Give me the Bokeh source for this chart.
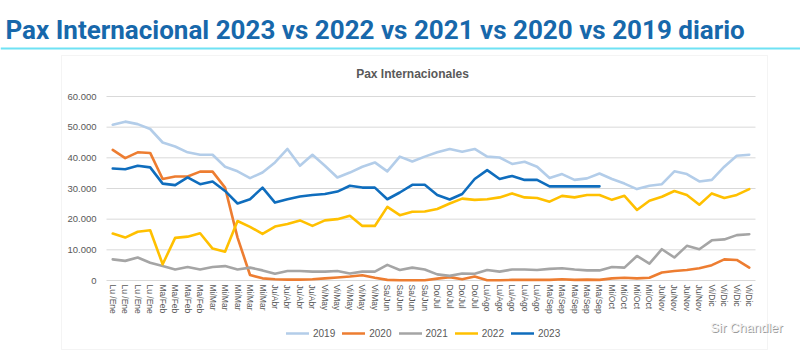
from bokeh.plotting import figure
from bokeh.models import Range1d, FixedTicker, Label, BoxAnnotation, Legend, LegendItem
from bokeh.embed import file_html
from bokeh.resources import INLINE

# ---------------- data ----------------
week_labels = [
    "Lu /Ene", "Lu /Ene", "Lu /Ene", "Lu /Ene",
    "Ma/Feb", "Ma/Feb", "Ma/Feb", "Ma/Feb",
    "Mi/Mar", "Mi/Mar", "Mi/Mar", "Mi/Mar", "Mi/Mar",
    "Ju/Abr", "Ju/Abr", "Ju/Abr", "Ju/Abr",
    "Vi/May", "Vi/May", "Vi/May", "Vi/May", "Vi/May",
    "Sa/Jun", "Sa/Jun", "Sa/Jun", "Sa/Jun",
    "Do/Jul", "Do/Jul", "Do/Jul", "Do/Jul",
    "Lu/Ago", "Lu/Ago", "Lu/Ago", "Lu/Ago", "Lu/Ago",
    "Ma/Sep", "Ma/Sep", "Ma/Sep", "Ma/Sep", "Ma/Sep",
    "Mi/Oct", "Mi/Oct", "Mi/Oct", "Mi/Oct",
    "Ju/Nov", "Ju/Nov", "Ju/Nov", "Ju/Nov",
    "Vi/Dic", "Vi/Dic", "Vi/Dic", "Vi/Dic",
]

pax_2019 = [50800, 51800, 51000, 49400, 45000, 43700, 41800, 41000, 41000, 37100,
            35600, 33400, 35200, 38500, 42900, 37400, 41000, 37400, 33600, 35200,
            37100, 38500, 35600, 40400, 38800, 40400, 41800, 42900, 42000, 42900,
            40400, 40100, 38000, 38700, 37100, 33400, 34700, 32800, 33300, 34900,
            33100, 31600, 29800, 30900, 31400, 35600, 34700, 32300, 32800, 37100,
            40700, 41000]
pax_2020 = [42600, 39900, 41800, 41600, 33100, 33900, 33900, 35500, 35500, 30300,
            14000, 1800, 700, 400, 300, 300, 400, 700, 1000, 1300,
            1700, 900, 200, 100, 100, 100, 600, 1100, 400, 1300,
            100, 100, 200, 200, 200, 200, 400, 200, 300, 200,
            700, 900, 700, 900, 2600, 3100, 3400, 4000, 5000, 6900,
            6700, 4200]
pax_2021 = [6900, 6400, 7500, 5800, 4700, 3600, 4400, 3600, 4400, 4700,
            3600, 4200, 3300, 2200, 3100, 3100, 2900, 2900, 3100, 2300,
            2900, 2900, 5100, 3400, 4200, 3600, 2000, 1500, 2300, 2200,
            3400, 2900, 3600, 3600, 3400, 3800, 4000, 3600, 3300, 3300,
            4400, 4200, 8000, 5500, 10200, 7500, 11300, 10200, 13100, 13400,
            14800, 15100]
pax_2022 = [15300, 14000, 15900, 16400, 5300, 13900, 14300, 15400, 10400, 9400,
            19400, 17500, 15200, 17600, 18400, 19600, 17800, 19600, 20000, 21100,
            17800, 17800, 24000, 21300, 22400, 22500, 23300, 25100, 26700, 26300,
            26500, 27100, 28400, 27100, 26900, 25700, 27600, 27100, 27900, 27900,
            26300, 27600, 23000, 26000, 27300, 29200, 27900, 24700, 28400, 26900,
            27900, 29800]
pax_2023 = [36500, 36300, 37400, 36900, 31600, 31100, 33600, 31400, 32300, 29200,
            25100, 26500, 30300, 25400, 26500, 27400, 27900, 28200, 29000, 30900,
            30300, 30300, 26500, 28700, 31200, 31200, 27900, 26400, 28200, 33100,
            36000, 33100, 34100, 32800, 32800, 30700, 30700, 30700, 30700, 30700]

series_names = ["2019", "2020", "2021", "2022", "2023"]
series_values = [pax_2019, pax_2020, pax_2021, pax_2022, pax_2023]
series_colors = ["#b3cde9", "#ed7d31", "#a5a5a5", "#ffc000", "#0f6dbd"]

y_ticks = [0, 10000, 20000, 30000, 40000, 50000, 60000]
y_tick_labels = ["0", "10.000", "20.000", "30.000", "40.000", "50.000", "60.000"]

main_title = "Pax Internacional 2023 vs 2022 vs 2021 vs 2020 vs 2019 diario"
chart_title = "Pax Internacionales"
watermark = "Sir Chandler"

# ---------------- layout (plot area in page pixels) ----------------
W, H = 800, 354
FL, FR, FT, FB = 106, 755, 96, 280
N = len(week_labels)
YMAX = 60000
UX = N / (FR - FL)          # x data units per pixel
UY = YMAX / (FB - FT)       # y data units per pixel

def sx(px):
    return -0.5 + (px - FL) * UX

def sy(py):
    return (FB - py) * UY

p = figure(width=W, height=H, output_backend="svg", toolbar_location=None,
           title=None,
           x_range=Range1d(sx(0), sx(W)), y_range=Range1d(sy(H), sy(0)),
           min_border=0, min_border_left=0, min_border_right=0,
           min_border_top=0, min_border_bottom=0)
p.background_fill_color = "white"
p.border_fill_color = "white"
p.outline_line_color = None
p.xgrid.visible = False
p.ygrid.visible = False

# axes fixed on the plot area edges
xa = p.xaxis[0]
xa.fixed_location = 0
xa.bounds = (-0.5, N - 0.5)
xa.ticker = FixedTicker(ticks=list(range(N)))
xa.major_label_overrides = {i: lab for i, lab in enumerate(week_labels)}
xa.major_label_orientation = "vertical"
xa.axis_line_color = None
xa.major_tick_line_color = None
xa.minor_tick_line_color = None
xa.major_tick_out = 0
xa.major_tick_in = 0
xa.major_label_standoff = 4
xa.major_label_text_font = "Liberation Sans"
xa.major_label_text_font_size = "8.5px"
xa.major_label_text_color = "#595959"

ya = p.yaxis[0]
ya.fixed_location = -0.5
ya.bounds = (0, YMAX)
ya.ticker = FixedTicker(ticks=y_ticks)
ya.major_label_overrides = {t: l for t, l in zip(y_ticks, y_tick_labels)}
ya.axis_line_color = None
ya.major_tick_line_color = None
ya.minor_tick_line_color = None
ya.major_tick_out = 0
ya.major_tick_in = 0
ya.major_label_standoff = 10
ya.major_label_text_font = "Liberation Sans"
ya.major_label_text_font_size = "9.5px"
ya.major_label_text_color = "#595959"

# chart box and title rule
p.add_layout(BoxAnnotation(left=sx(61), right=sx(767), top=sy(55), bottom=sy(349),
                           fill_color="white", fill_alpha=1, line_color="#d9d9d9",
                           line_width=1, level="underlay"))
p.add_layout(BoxAnnotation(left=sx(0), right=sx(800), top=sy(47), bottom=sy(49),
                           fill_color="#6fe2f4", fill_alpha=1, line_color=None,
                           level="underlay"))

# horizontal gridlines at the y ticks
p.segment(x0=-0.5, x1=N - 0.5, y0=y_ticks, y1=y_ticks, line_color="#d9d9d9", line_width=1)

# series lines
items = []
for name, vals, col in zip(series_names, series_values, series_colors):
    r = p.line(list(range(len(vals))), vals, line_color=col, line_width=2.6,
               line_join="round", line_cap="round")
    items.append(LegendItem(label=name, renderers=[r]))

legend = Legend(items=items, orientation="horizontal", location=(286, 15),
                padding=0, margin=0, spacing=7, label_standoff=4,
                glyph_width=23, glyph_height=12, label_height=12,
                label_text_font="Liberation Sans", label_text_font_size="10px",
                label_text_color="#595959",
                border_line_color=None, background_fill_alpha=0)
p.add_layout(legend)

# texts
p.add_layout(Label(x=sx(5), y=sy(29), text=main_title, text_align="left",
                   text_baseline="middle", text_font="Roboto",
                   text_font_style="bold", text_font_size="26px", text_color="#1768ab"))
p.add_layout(Label(x=sx(412), y=sy(73), text=chart_title, text_align="center",
                   text_baseline="middle", text_font="Liberation Sans",
                   text_font_style="bold", text_font_size="12px", text_color="#595959"))
p.add_layout(Label(x=sx(747), y=sy(328), text=watermark, text_align="center",
                   text_baseline="middle", text_font="Liberation Sans",
                   text_font_size="13px", text_color="#9a9a9a"))
p.add_layout(Label(x=sx(746), y=sy(327), text=watermark, text_align="center",
                   text_baseline="middle", text_font="Liberation Sans",
                   text_font_size="13px", text_color="#f4f4f4"))

open("out.html", "w").write(file_html(p, INLINE))
